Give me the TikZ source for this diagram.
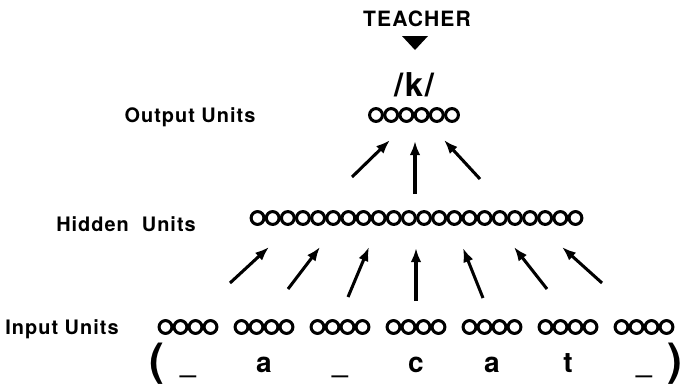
\documentclass[tikz,border=0pt]{standalone}
\usepackage{fontspec}
\setmainfont{TeX Gyre Heros}
\newfontfamily\labelfont[LetterSpace=5]{TeX Gyre Heros}
\usetikzlibrary{arrows.meta, positioning, calc}
\tikzset{
    unitnode/.style={draw, circle, line width=2.6pt, inner sep=0pt, minimum size=0.385cm},
    layerlabel/.style={font=\labelfont\bfseries\fontsize{17}{20}\selectfont},
    letter/.style={font=\bfseries\fontsize{24}{28}\selectfont, anchor=base},
    bracket/.style={font=\bfseries\fontsize{38}{42}\selectfont},
    weightarrow/.style={-{Latex[length=12pt,width=9pt]}, line width=2.6pt},
}
\begin{document}
\begin{tikzpicture}[x=0.03cm, y=-0.03cm]
    \useasboundingbox (0,0) rectangle (683,387);

    % Teacher signal
    \node[layerlabel, font=\labelfont\bfseries\fontsize{18}{21}\selectfont] (teacher) at (417,19) {TEACHER};
    \fill (402,36) -- (428,36) -- (415,50) -- cycle;
    \node[font=\labelfont\bfseries\fontsize{28}{32}\selectfont] (target) at (414,85) {/k/};

    % Layer labels
    \node[layerlabel] (outlabel) at (190,117) {Output Units};
    \node[layerlabel] (hidlabel) at (126,224) {Hidden\ \ Units};
    \node[layerlabel] (inlabel) at (62,329) {Input Units};

    % Output units
    \foreach \i in {1,...,6}
        \node[unitnode] (o\i) at ({414+(\i-3.5)*15.2},115) {};

    % Hidden units
    \foreach \i in {1,...,22}
        \node[unitnode] (h\i) at ({416.5+(\i-11.5)*15.14},218) {};

    % Input units, seven groups of four
    \foreach \g in {1,...,7}
        \foreach \j in {1,...,4}
            \node[unitnode] (x\g\j) at ({416+(\g-4)*76+(\j-2.5)*15},327) {};

    % Input string
    \node[bracket] (lpar) at (157,364) {(};
    \node[bracket] (rpar) at (675,364) {)};
    \foreach \c [count=\g] in {\_, a, \_, c, a, t, \_}
        \node[letter] (l\g) at ({416+(\g-4)*76},372) {\c};

    % Hidden -> output
    \foreach \tx/\ty/\hx/\hy [count=\k] in {352/177/390/140, 415/194/415/141, 480/179/444/140} {
        \coordinate (hot\k) at (\tx,\ty);
        \coordinate (hoh\k) at (\hx,\hy);
        \draw[weightarrow] (hot\k) -- (hoh\k);
    }

    % Input -> hidden
    \foreach \tx/\ty/\hx/\hy [count=\k] in {230/283/269/247, 288/289/320/247, 348/297/369/247,
            416/301/416/248, 483/298/463/248, 547/289/514/247, 602/283/562/247} {
        \coordinate (iht\k) at (\tx,\ty);
        \coordinate (ihh\k) at (\hx,\hy);
        \draw[weightarrow] (iht\k) -- (ihh\k);
    }
\end{tikzpicture}
\end{document}
